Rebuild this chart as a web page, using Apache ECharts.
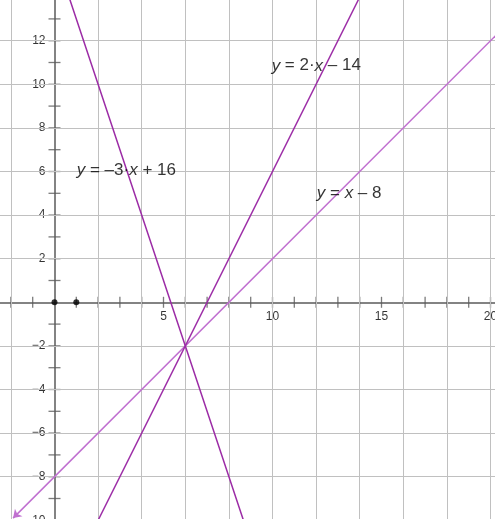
<!DOCTYPE html>
<html>
<head>
<meta charset="utf-8">
<script src="https://cdn.jsdelivr.net/npm/echarts@6/dist/echarts.min.js"></script>
<style>
html,body{margin:0;padding:0;background:#fff;}
#chart{width:495px;height:519px;}
</style>
</head>
<body>
<div id="chart"></div>
<script>
// ---- data ----
const xRange = [-10, 30];
const yRange = [-10, 14];
const gridX = [-2, 2, 4, 6, 8, 10, 12, 14, 16, 18, 20];
const gridY = [-10, -8, -6, -4, -2, 2, 4, 6, 8, 10, 12, 14];
const tickX = [-2, -1, 1, 2, 3, 4, 5, 6, 7, 8, 9, 10, 11, 12, 13, 14, 15, 16, 17, 18, 19, 20];
const tickY = [-10, -9, -8, -7, -6, -5, -4, -3, -2, -1, 1, 2, 3, 4, 5, 6, 7, 8, 9, 10, 11, 12, 13, 14];
const labelsX = [5, 10, 15, 20];
const labelsY = [-10, -8, -6, -4, -2, 2, 4, 6, 8, 10, 12, 14];
// line endpoints (data coordinates)
const lineA = [[0, 16], [10, -14]];      // y = -3x + 16
const lineB = [[-2, -18], [16, 18]];     // y = 2x - 14
const lineC = [[-1.9, -9.9], [22, 14]];  // y = x - 8
const points = [[0, 0], [1, 0]];
const labelA = 'y = –3·x + 16';
const labelB = 'y = 2·x – 14';
const labelC = 'y = x – 8';
const labelPosA = [1.02, 6.05];
const labelPosB = [9.96, 10.85];
const labelPosC = [12.03, 5.0];

// ---- layout ----
const unit = 21.8;
const origin = [54.5, 302.3];
const gridLeft = origin[0] + xRange[0] * unit;
const gridTop = origin[1] - yRange[1] * unit;
const gridW = (xRange[1] - xRange[0]) * unit;
const gridH = (yRange[1] - yRange[0]) * unit;

const FONT = '"Liberation Sans", Arial, sans-serif';
const axisCol = '#5a5a5a';
const gridCol = '#c0c0c0';
const fmtMinus = s => String(s).replace('-', '−');

const chart = echarts.init(document.getElementById('chart'), null, { renderer: 'canvas' });

function richLabel(str) {
  return str.replace(/([xy])/g, '{i|$1}');
}
function annotation(str, pos) {
  return {
    type: 'scatter', data: [pos], symbolSize: 0, silent: true,
    label: {
      show: true, position: 'right', distance: 0,
      formatter: richLabel(str),
      fontSize: 17, fontFamily: FONT, color: '#000',
      rich: { i: { fontStyle: 'italic', fontSize: 17, fontFamily: FONT, color: '#000' } }
    },
    z: 10
  };
}
function plainAxis(rng) {
  return {
    type: 'value', min: rng[0], max: rng[1],
    axisLine: { show: true, onZero: true, lineStyle: { color: axisCol, width: 1.5 } },
    axisTick: { show: false },
    axisLabel: { show: false },
    splitLine: { show: false }
  };
}

chart.setOption({
  animation: false,
  backgroundColor: '#ffffff',
  grid: { left: gridLeft, top: gridTop, width: gridW, height: gridH, outerBoundsMode: 'none' },
  xAxis: plainAxis(xRange),
  yAxis: plainAxis(yRange),
  series: [
    // grid lines
    { type: 'line', data: [], silent: true, z: 1,
      markLine: {
        silent: true, animation: false, symbol: ['none', 'none'], label: { show: false },
        lineStyle: { color: gridCol, width: 1, type: 'solid' },
        data: gridX.map(v => ({ xAxis: v })).concat(gridY.map(v => ({ yAxis: v })))
      } },
    // ticks crossing the axes
    { type: 'scatter', data: tickX.map(v => [v, 0]), symbol: 'rect', symbolSize: [1.3, 11],
      itemStyle: { color: axisCol }, silent: true, z: 3 },
    { type: 'scatter', data: tickY.map(v => [0, v]), symbol: 'rect', symbolSize: [12, 1.3],
      itemStyle: { color: axisCol }, silent: true, z: 3 },
    // tick labels
    { type: 'scatter', data: labelsX.map(v => [v, 0]), symbolSize: 0, silent: true, z: 4,
      label: { show: true, position: 'bottom', distance: 8, fontSize: 12, fontFamily: FONT, color: '#000',
               formatter: p => fmtMinus(p.value[0]) } },
    { type: 'scatter', data: labelsY.map(v => [0, v]), symbolSize: 0, silent: true, z: 4,
      label: { show: true, position: 'left', distance: 9, fontSize: 12, fontFamily: FONT, color: '#000',
               formatter: p => fmtMinus(p.value[1]) } },
    // lines
    { type: 'line', data: lineA, showSymbol: false, symbol: 'none',
      lineStyle: { color: '#9c2ca6', width: 1.5 }, z: 5 },
    { type: 'line', data: lineB, showSymbol: false, symbol: 'none',
      lineStyle: { color: '#9c2ca6', width: 1.5 }, z: 5 },
    { type: 'line', data: [], showSymbol: false, symbol: 'none', z: 5,
      markLine: {
        silent: true, animation: false,
        symbol: ['arrow', 'none'], symbolSize: 8,
        label: { show: false },
        lineStyle: { color: '#c070d0', width: 1.5, type: 'solid' },
        data: [[{ coord: lineC[0] }, { coord: lineC[1] }]]
      } },
    // points
    { type: 'scatter', data: points, symbolSize: 6, itemStyle: { color: '#000' }, z: 12 },
    annotation(labelA, labelPosA),
    annotation(labelB, labelPosB),
    annotation(labelC, labelPosC)
  ]
});
</script>
</body>
</html>
